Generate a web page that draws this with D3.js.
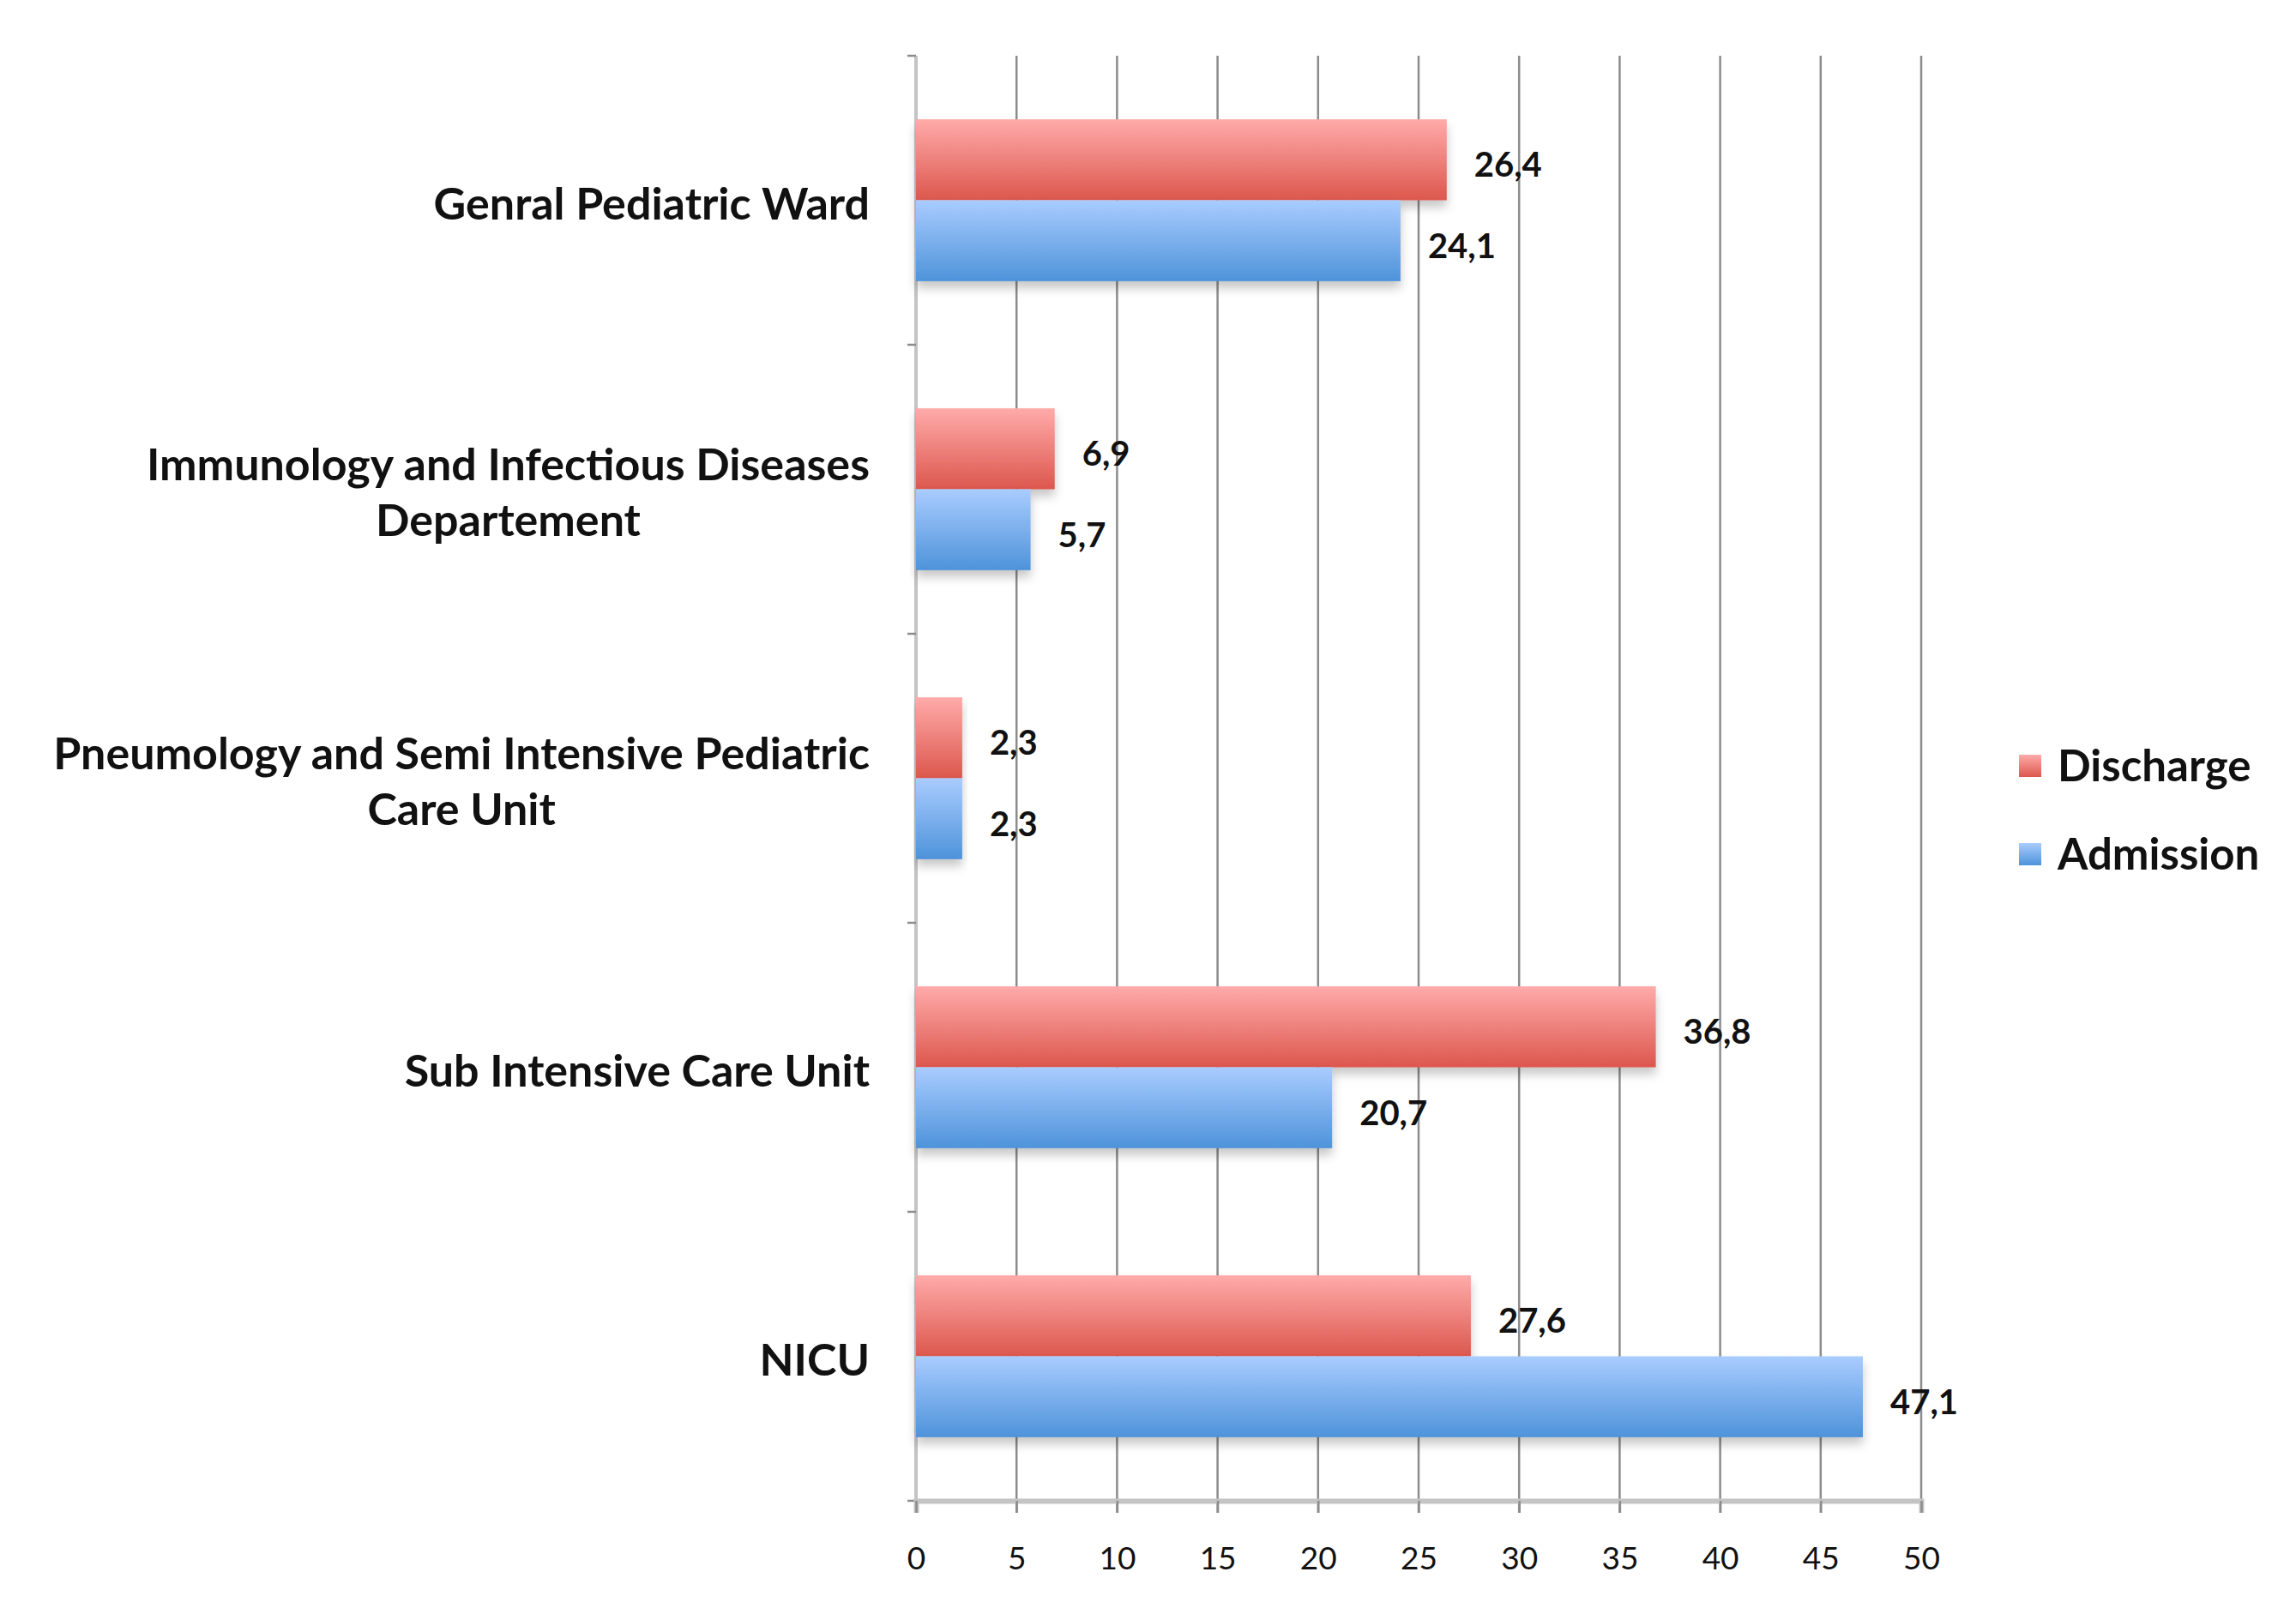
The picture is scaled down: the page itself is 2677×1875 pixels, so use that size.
<!DOCTYPE html>
<html>
<head>
<meta charset="utf-8">
<script src="https://cdn.jsdelivr.net/npm/d3@7"></script>
<style>
  html, body { margin: 0; padding: 0; background: #fff; }
  svg text { font-family: Lato, "Open Sans", sans-serif; fill: #111; }
</style>
</head>
<body>
<div id="chart"></div>
<script>
// --- Data ---
const categories = [
  "Genral Pediatric Ward",
  "Immunology and Infectious Diseases|Departement",
  "Pneumology and Semi Intensive Pediatric|Care Unit",
  "Sub Intensive Care Unit",
  "NICU"
];
const seriesNames = ["Discharge", "Admission"];
const discharge = [26.4, 6.9, 2.3, 36.8, 27.6];
const admission = [24.1, 5.7, 2.3, 20.7, 47.1];
const xTicks = [0, 5, 10, 15, 20, 25, 30, 35, 40, 45, 50];

const W = 2677, H = 1875;
const margin = { top: 65, right: 437, bottom: 125, left: 1068 };
const innerW = W - margin.left - margin.right;
const innerH = H - margin.top - margin.bottom;

const svg = d3.select("#chart").append("svg")
  .attr("width", W).attr("height", H);

// gradients + shadow
const defs = svg.append("defs");
function grad(id, top, bottom) {
  const g = defs.append("linearGradient").attr("id", id)
    .attr("x1", 0).attr("y1", 0).attr("x2", 0).attr("y2", 1);
  g.append("stop").attr("offset", "0%").attr("stop-color", top);
  g.append("stop").attr("offset", "100%").attr("stop-color", bottom);
}
grad("g-red", "#ffabaa", "#dc574d");
grad("g-blue", "#a9ccff", "#4e93da");
const shadow = defs.append("filter").attr("id", "shadow")
  .attr("x", "-5%").attr("y", "-20%").attr("width", "115%").attr("height", "160%");
shadow.append("feDropShadow").attr("dx", 0).attr("dy", 8).attr("stdDeviation", 6)
  .attr("flood-color", "#000").attr("flood-opacity", 0.22);

const fills = { Discharge: "url(#g-red)", Admission: "url(#g-blue)" };

const g = svg.append("g").attr("transform", `translate(${margin.left},${margin.top})`);

const x = d3.scaleLinear().domain([0, 50]).range([0, innerW]);
const y = d3.scaleBand().domain(categories).range([0, innerH])
  .paddingInner(0.44).paddingOuter(0.22);
const ySub = d3.scaleBand().domain(seriesNames).range([0, y.bandwidth()]);

// gridlines
g.append("g").selectAll("line").data(xTicks.slice(1)).join("line")
  .attr("x1", d => x(d)).attr("x2", d => x(d))
  .attr("y1", 0).attr("y2", innerH + 14)
  .attr("stroke", "#8c8c8c").attr("stroke-width", 2.5);

// left axis
g.append("line").attr("x1", 0).attr("x2", 0).attr("y1", 0).attr("y2", innerH + 14)
  .attr("stroke", "#c4c4c4").attr("stroke-width", 4);
const bounds = d3.range(categories.length + 1).map(i => i * innerH / categories.length);
g.append("g").selectAll("line").data(bounds).join("line")
  .attr("x1", -10).attr("x2", 0)
  .attr("y1", d => d).attr("y2", d => d)
  .attr("stroke", "#8c8c8c").attr("stroke-width", 2.5);

// bottom axis
const xAxis = g.append("g").attr("transform", `translate(0,${innerH})`)
  .call(d3.axisBottom(x).tickValues(xTicks).tickSize(14).tickPadding(40));
xAxis.select(".domain").attr("stroke", "#c4c4c4").attr("stroke-width", 6);
xAxis.selectAll(".tick line").attr("stroke", "#8c8c8c").attr("stroke-width", 2.5);
xAxis.selectAll(".tick text").attr("font-size", 37).attr("fill", "#222")
  .attr("font-family", "Lato, sans-serif");

// bars
const rows = categories.map((c, i) => ({ cat: c, vals: [
  { s: "Discharge", v: discharge[i] }, { s: "Admission", v: admission[i] }
]}));
const grp = g.append("g").selectAll("g").data(rows).join("g")
  .attr("transform", d => `translate(0,${y(d.cat)})`);
grp.selectAll("rect").data(d => d.vals).join("rect")
  .attr("x", 0).attr("y", d => ySub(d.s))
  .attr("width", d => x(d.v)).attr("height", ySub.bandwidth())
  .attr("fill", d => fills[d.s]).attr("filter", "url(#shadow)");
grp.selectAll("text.val").data(d => d.vals).join("text").attr("class", "val")
  .attr("x", d => x(d.v) + 32).attr("y", d => ySub(d.s) + ySub.bandwidth() / 2 + 6)
  .attr("dy", "0.35em").attr("font-size", 40).attr("font-weight", 700)
  .text(d => d3.format(".1f")(d.v).replace(".", ","));

// category labels
const lab = g.append("g").selectAll("text").data(categories).join("text")
  .attr("text-anchor", "middle").attr("font-size", 52).attr("font-weight", 700)
  .attr("transform", d => `translate(0,${y(d) + y.bandwidth() / 2 + 4})`);
lab.each(function(d) {
  const lines = d.split("|");
  const t = d3.select(this);
  const n = lines.length;
  lines.forEach((ln, i) => {
    t.append("tspan").attr("y", (i - (n - 1) / 2) * 65).attr("dy", "0.35em").text(ln);
  });
});
// right-align the block: widest line ends near the axis, others centred under it
lab.each(function() {
  const t = d3.select(this);
  const spans = t.selectAll("tspan").nodes();
  const maxW = d3.max(spans.map(s => s.getComputedTextLength()));
  const cx = -54 - maxW / 2;
  spans.forEach(s => d3.select(s).attr("x", cx));
});

// legend
const leg = svg.append("g").attr("transform", "translate(2354,880)");
seriesNames.forEach((s, i) => {
  const row = leg.append("g").attr("transform", `translate(0,${i * 103})`);
  row.append("rect").attr("width", 26).attr("height", 26).attr("fill", fills[s]);
  row.append("text").attr("x", 45).attr("y", 13).attr("dy", "0.35em")
    .attr("font-size", 51).attr("font-weight", 700).text(s);
});
</script>
</body>
</html>
